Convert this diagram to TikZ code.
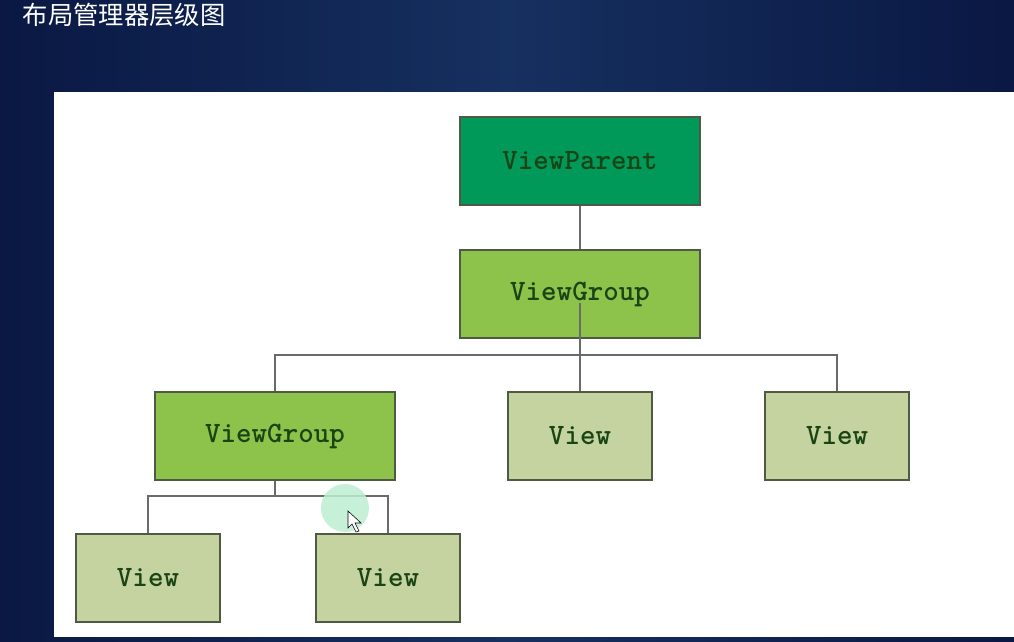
\documentclass[tikz,border=0pt]{standalone}
\usepackage{fontspec}
\newfontfamily\cjkfont{Noto Sans CJK SC}
\usetikzlibrary{positioning,calc}
\definecolor{bgdark}{HTML}{0A1843}
\definecolor{bglight}{HTML}{16305F}
\definecolor{parentgreen}{HTML}{00995A}
\definecolor{groupgreen}{HTML}{8DC24B}
\definecolor{leafgreen}{HTML}{C4D3A0}
\definecolor{boxedge}{HTML}{4F5A44}
\definecolor{linkgray}{HTML}{6A6A6A}
\definecolor{textgreen}{HTML}{1A4414}
\definecolor{mint}{HTML}{BDEFD2}
\tikzset{
block/.style = {draw=boxedge, line width=1.3pt, rectangle, inner sep=0pt, minimum height=2.2cm, minimum width=6cm, text=textgreen, font=\ttfamily\bfseries\fontsize{21}{25}\selectfont},
parent/.style = {block, fill=parentgreen},
group/.style = {block, fill=groupgreen},
leaf/.style = {block, fill=leafgreen, minimum width=3.6cm},
tmp/.style = {coordinate},
link/.style = {draw=linkgray, line width=1.3pt}
}
\begin{document}
\begin{tikzpicture}[x=0.025cm, y=-0.025cm]
    \useasboundingbox (0,0) rectangle (1014,641);
    % screen and panel
    \shade[left color=bgdark, right color=bgdark, middle color=bglight] (0,0) rectangle (1014,641);
    \fill[white] (54,92) rectangle (1014,637);
    \node [anchor=west, text=white, font=\cjkfont\fontsize{18}{22}\selectfont] (title) at (18,15) {布局管理器层级图};
    % boxes
    \node [parent] (vp) at (580,161) {ViewParent};
    \node [group] (vg) at (580,294) {ViewGroup};
    \node [group] (vgl) at (275,436) {ViewGroup};
    \node [leaf] (vm) at (580,436) {View};
    \node [leaf] (vr) at (837,436) {View};
    \node [leaf] (vbl) at (148,578) {View};
    \node [leaf] (vbr) at (388,578) {View};
    % helper points
    \node [tmp] (j1) at (580,355) {};
    \node [tmp] (j2) at (275,496) {};
    \node [tmp] (g1) at (580,303) {};
    % links
    \draw [link] (vp) -- (vg);
    \draw [link] (g1) -- (j1);
    \draw [link] (vgl.north) |- (j1) -| (vr.north);
    \draw [link] (j1) -- (vm);
    \draw [link] (vgl) -- (j2);
    \draw [link] (vbl.north) |- (j2) -| (vbr.north);
    % pointer mark
    \fill[mint, opacity=0.85] (345,508) circle (0.6cm);
    \draw[black, fill=white, line width=0.4pt] (348,511) -- (348,528) -- (352,524) -- (356,532) -- (359,531) -- (355,523) -- (361,523) -- cycle;
\end{tikzpicture}
\end{document}
